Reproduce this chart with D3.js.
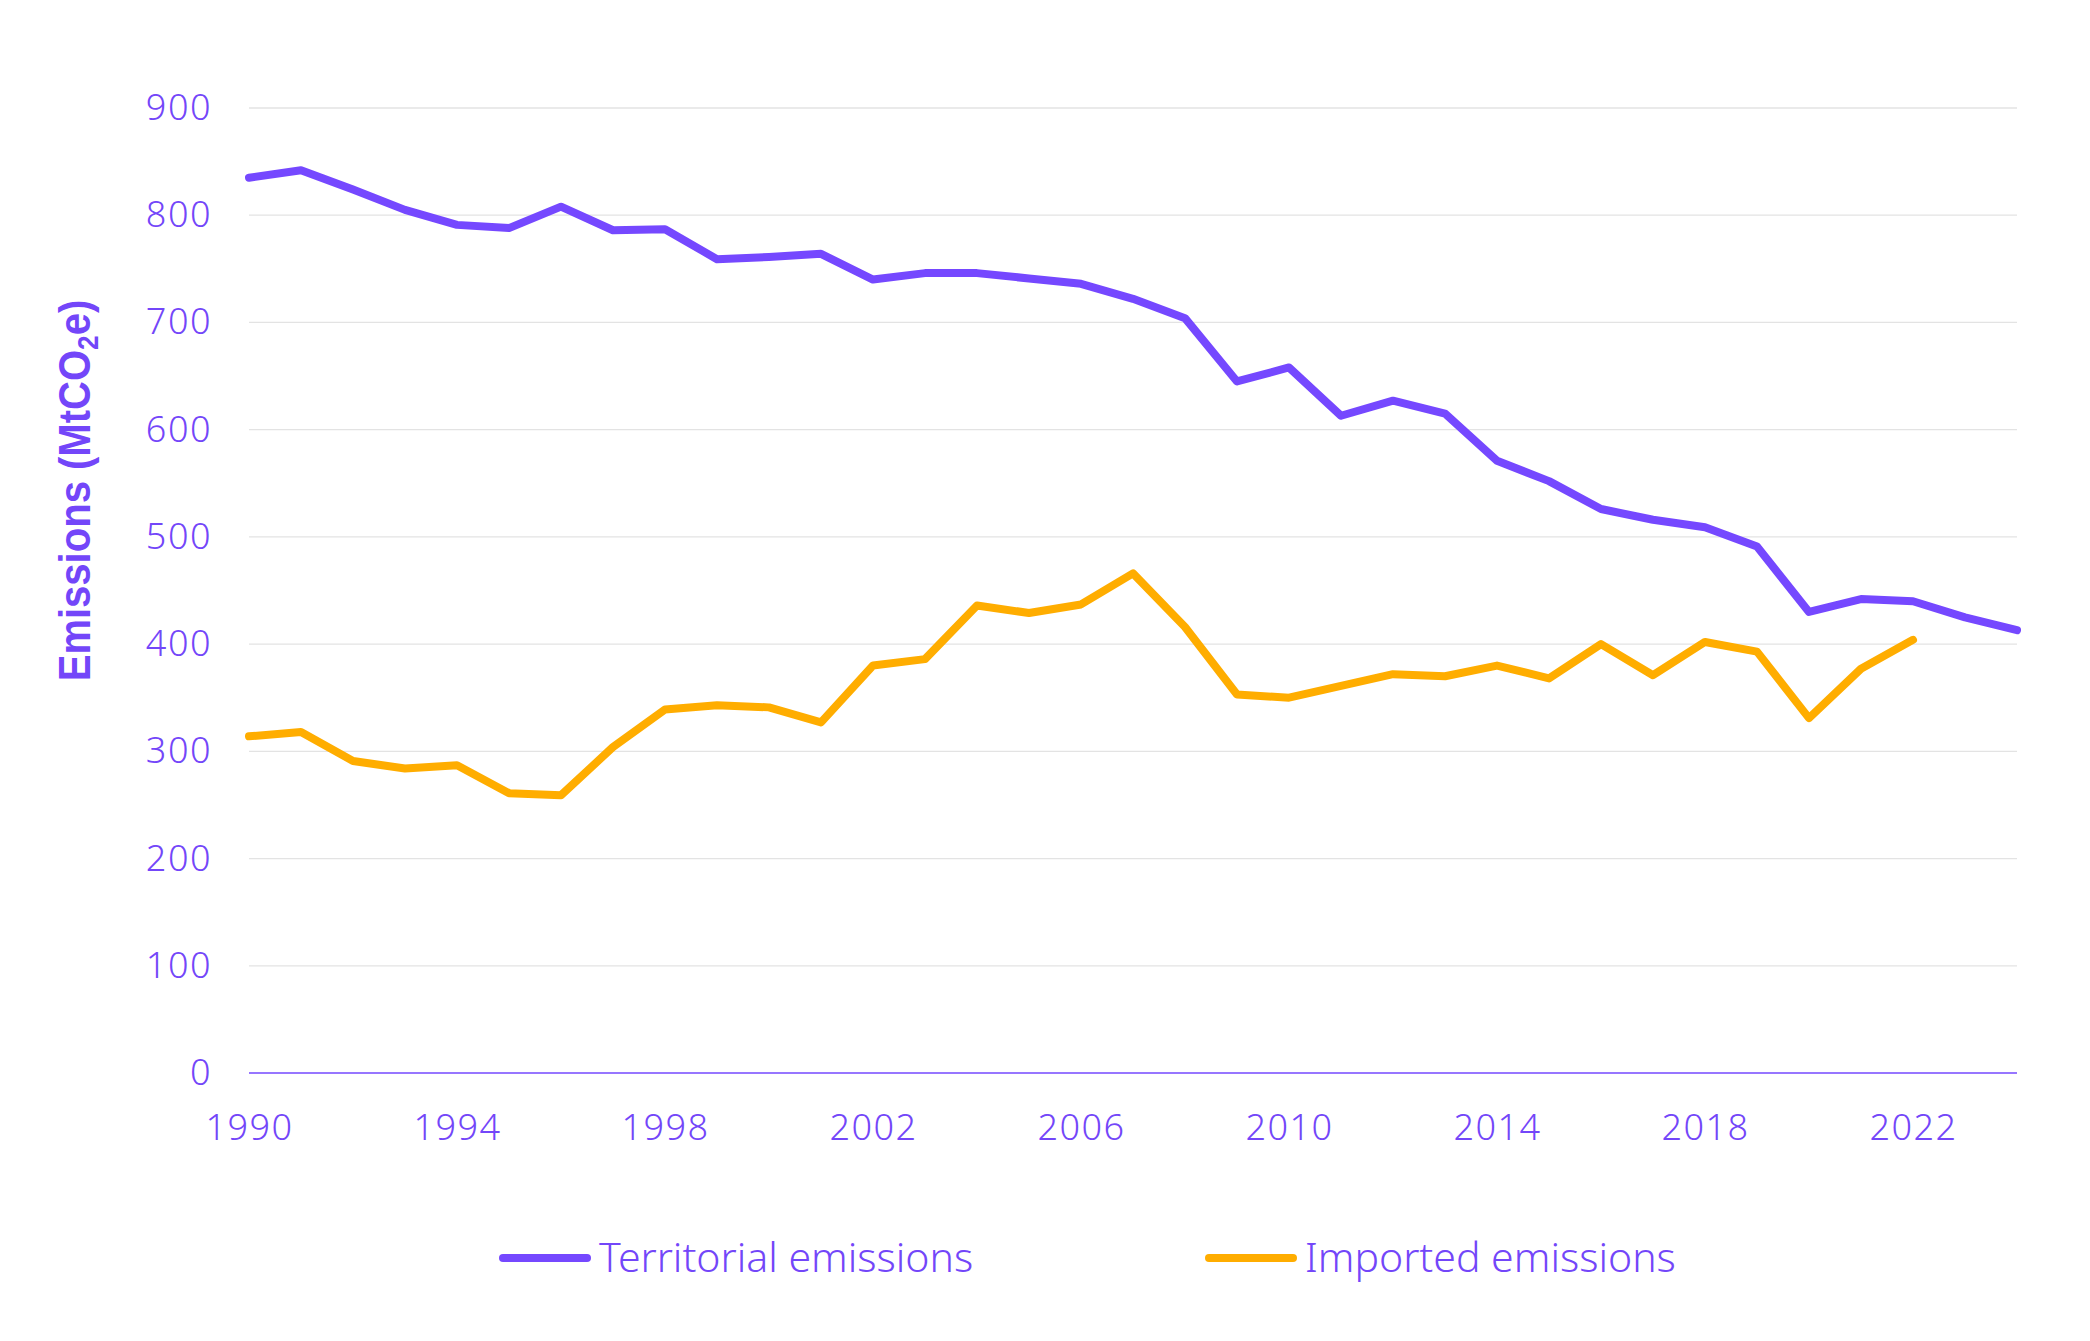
<!DOCTYPE html>
<html>
<head>
<meta charset="utf-8">
<script src="https://cdn.jsdelivr.net/npm/d3@7"></script>
<style>
  html, body { margin: 0; padding: 0; background: #ffffff; }
  svg { display: block; }
</style>
</head>
<body>
<script>
const years = [1990,1991,1992,1993,1994,1995,1996,1997,1998,1999,2000,2001,2002,2003,2004,2005,2006,2007,2008,2009,2010,2011,2012,2013,2014,2015,2016,2017,2018,2019,2020,2021,2022,2023,2024];
const territorial = [835,842,824,805,791,788,808,786,787,759,761,764,740,746,746,741,736,722,704,645,658,613,627,615,571,552,526,516,509,491,430,442,440,425,413];
const imported = [314,318,291,284,287,261,259,304,339,343,341,327,380,386,436,429,437,466,416,353,350,361,372,370,380,368,400,371,402,393,331,377,404];
const yTicks = [0,100,200,300,400,500,600,700,800,900];
const xTicks = [1990,1994,1998,2002,2006,2010,2014,2018,2022];
const seriesNames = ["Territorial emissions", "Imported emissions"];
const yTitle = "Emissions (MtCO";
const yTitleSub = "2";
const yTitleEnd = "e)";

const W = 2090, H = 1341;
const purple = "#7548FF";
const textPurple = "#7346F9";
const orange = "#FFAD00";
const font = "'Noto Sans', 'DejaVu Sans', sans-serif";

const svg = d3.select("body").append("svg").attr("width", W).attr("height", H);

const x = d3.scaleLinear().domain([1990, 2024]).range([249, 2017]);
const y = d3.scaleLinear().domain([0, 900]).range([1073, 108]);

// gridlines
svg.append("g")
  .selectAll("line")
  .data(yTicks.filter(d => d > 0))
  .join("line")
  .attr("x1", x.range()[0]).attr("x2", x.range()[1])
  .attr("y1", d => y(d)).attr("y2", d => y(d))
  .attr("stroke", "#e3e3e3").attr("stroke-width", 1.3);

// y axis labels
const yAxis = d3.axisLeft(y).tickValues(yTicks).tickSize(0).tickPadding(0);
const gy = svg.append("g").attr("transform", `translate(212,0)`).call(yAxis);
gy.select(".domain").remove();
gy.selectAll("text")
  .attr("font-family", font).attr("font-size", 36).attr("font-weight", 300)
  .attr("fill", textPurple).attr("letter-spacing", 1.5);

// x axis line
svg.append("line")
  .attr("x1", x.range()[0]).attr("x2", x.range()[1])
  .attr("y1", y(0)).attr("y2", y(0))
  .attr("stroke", purple).attr("stroke-width", 1.5);

const xAxis = d3.axisBottom(x).tickValues(xTicks).tickFormat(d3.format("d")).tickSize(0).tickPadding(0);
const gx = svg.append("g").attr("transform", `translate(0,${y(0) + 41})`).call(xAxis);
gx.select(".domain").remove();
gx.selectAll("text")
  .attr("font-family", font).attr("font-size", 36).attr("font-weight", 300)
  .attr("fill", textPurple).attr("letter-spacing", 1.5).attr("dy", "0.71em");

// y title
const yt = svg.append("text")
  .attr("transform", `translate(90,${(y(0)+y(900))/2 - 100}) rotate(-90) scale(0.91,1)`)
  .attr("text-anchor", "middle")
  .attr("font-family", "'Liberation Sans Narrow', 'Liberation Sans', sans-serif")
  .attr("font-weight", 700).attr("font-size", 44)
  .attr("fill", textPurple);
yt.append("tspan").text(yTitle);
yt.append("tspan").attr("font-size", 29).attr("dy", 8).text(yTitleSub);
yt.append("tspan").attr("dy", -8).text(yTitleEnd);

// lines
const line = d3.line().x(d => x(d[0])).y(d => y(d[1]));
const tData = years.map((yr, i) => [yr, territorial[i]]);
const iData = imported.map((v, i) => [years[i], v]);

svg.append("path").datum(tData).attr("d", line)
  .attr("fill", "none").attr("stroke", purple).attr("stroke-width", 8)
  .attr("stroke-linejoin", "round").attr("stroke-linecap", "round");
svg.append("path").datum(iData).attr("d", line)
  .attr("fill", "none").attr("stroke", orange).attr("stroke-width", 8)
  .attr("stroke-linejoin", "round").attr("stroke-linecap", "round");

// legend
const legendItems = [
  {name: seriesNames[0], color: purple, x0: 503},
  {name: seriesNames[1], color: orange, x0: 1209}
];
const lg = svg.append("g");
legendItems.forEach(it => {
  lg.append("line")
    .attr("x1", it.x0).attr("x2", it.x0 + 84)
    .attr("y1", 1258).attr("y2", 1258)
    .attr("stroke", it.color).attr("stroke-width", 8).attr("stroke-linecap", "round");
  lg.append("text")
    .attr("x", it.x0 + 96).attr("y", 1258).attr("dy", "0.35em")
    .attr("font-family", font).attr("font-size", 41).attr("font-weight", 300)
    .attr("fill", textPurple).text(it.name);
});
</script>
</body>
</html>
